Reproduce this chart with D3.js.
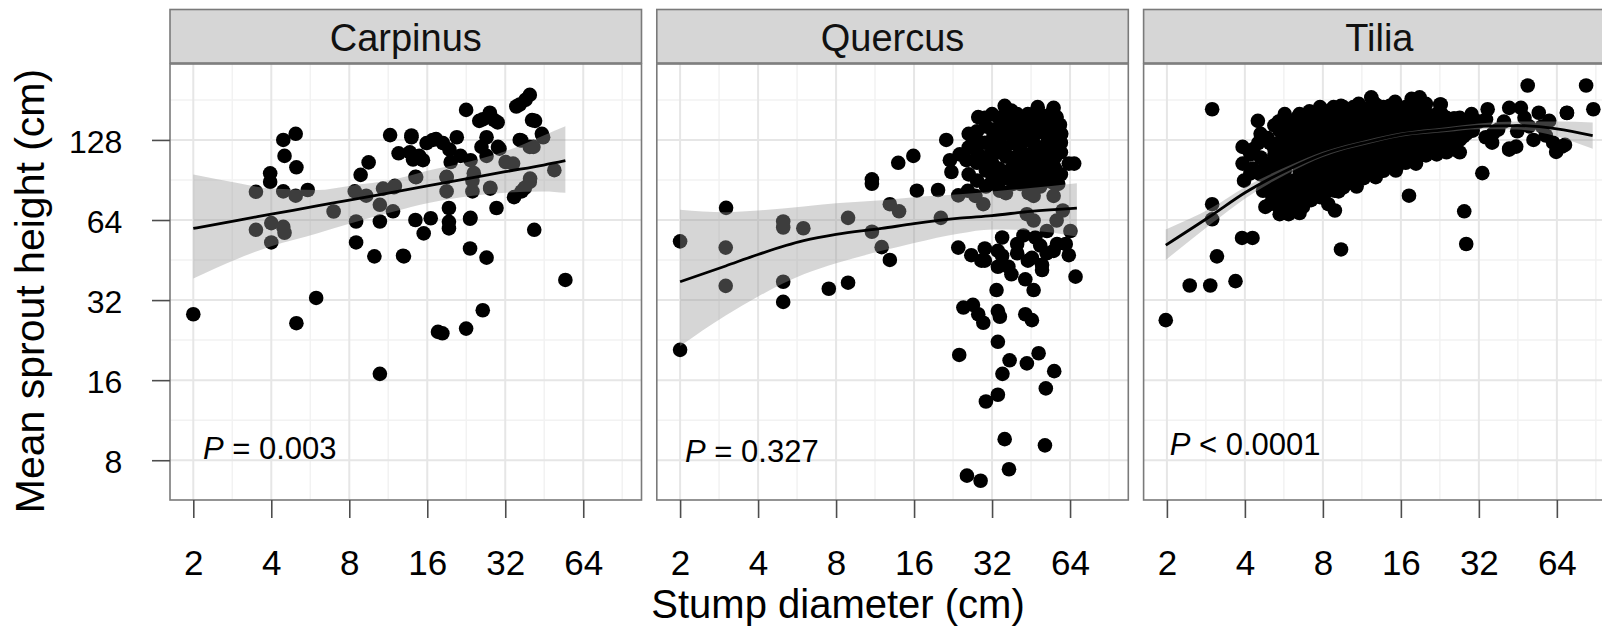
<!DOCTYPE html>
<html>
<head>
<meta charset="utf-8">
<script src="https://cdn.jsdelivr.net/npm/d3@7"></script>
<style>
  body { margin: 0; background: #fff; }
  svg { display: block; font-family: "Liberation Sans", Arial, sans-serif; }
</style>
</head>
<body>
<svg id="chart"></svg>
<script>
// ---- data ----
const species = ["Carpinus", "Quercus", "Tilia"];
const pLabels = [["P", " = 0.003"], ["P", " = 0.327"], ["P", " < 0.0001"]];
const xTicks = [2, 4, 8, 16, 32, 64];
const yTicks = [8, 16, 32, 64, 128];

// stump diameter (cm), mean sprout height (cm)
const carpinusPts = [
  [2.0, 28.3], [3.49, 81.7], [3.49, 58.8], [3.96, 95.9], [3.96, 89], [4.0, 62.3], [4.0, 52.7],
  [4.45, 128], [4.5, 111.5], [4.97, 135], [5.0, 101], [4.45, 82], [4.97, 79], [5.53, 83],
  [4.45, 60.3], [4.5, 57.3], [5.96, 32.6], [5.0, 26.2], [6.96, 68.9], [8.4, 82], [8.5, 63.2],
  [8.5, 52.7], [8.85, 94.6], [9.5, 105.4], [9.3, 79], [10.0, 46.7], [10.5, 63.2], [10.5, 16.9],
  [10.8, 84], [10.5, 73], [11.5, 133.5], [11.8, 69], [11.9, 85], [13.0, 46.7], [13.9, 131],
  [12.4, 114], [14.4, 93], [14.4, 64], [14.9, 111.5], [15.5, 57], [16.5, 65], [16.8, 128],
  [18.4, 124.5], [19.0, 93], [19.0, 82], [19.4, 71], [19.4, 63], [19.4, 59.5], [19.7, 105.7],
  [20.8, 131], [21.5, 111.5], [22.6, 166], [23.4, 64.7], [23.4, 50], [23.9, 82], [24.2, 96],
  [26.2, 153], [27.1, 131], [27.1, 111.5], [27.1, 46.2], [26.2, 29.3], [28, 84], [29, 152],
  [29.6, 71], [30, 120.5], [32.1, 105.7], [34.6, 78], [35.3, 171], [36.4, 128], [37, 82],
  [38.3, 181], [39.8, 189], [39.8, 120.5], [39.8, 89], [40.6, 152], [41.4, 58.8], [44.8, 131],
  [49.5, 98.5], [54.6, 38.1], [17.6, 24.3], [18.3, 24.0], [22.6, 25.0], [13.9, 133], [14.1, 108],
  [15.4, 107.4], [15.9, 124.6], [17.3, 129], [19.5, 117.7], [23.5, 107.4], [25.4, 151], [27.9, 162],
  [29.9, 149], [30.4, 118.7], [36.9, 127.4], [41.1, 120.5], [34.3, 104.3], [39.9, 91.6], [38.1, 84.6],
  [12, 86], [14.5, 92.8], [19, 92.8], [23.9, 90], [23.5, 65.2], [28, 84.6], [12.9, 47], [25.9, 120.5],
  [13.7, 115], [36.4, 174], [41.7, 151], [44.3, 135]
];

const quercusPts = [
  [2.0, 53.2], [3.01, 71.1], [3.0, 50.4], [3.0, 36.2], [5.0, 63.2], [5.0, 60], [5.0, 37.5], [5.0, 31.5],
  [5.98, 59.6], [7.5, 35.3], [8.9, 37.2], [8.9, 65.2], [11.0, 91], [11.0, 87.6], [11.0, 57.8], [12.0, 50.6],
  [12.9, 73.4], [14.0, 69], [12.9, 45.3], [13.9, 105], [15.9, 111.5], [16.4, 82.5], [19.8, 83], [20.3, 65.2],
  [21.3, 128], [2.0, 20.8],
  [22.0, 107.4], [22.3, 97], [23.7, 79.2], [24.0, 113], [23.7, 50.4], [25.5, 107.4], [25.8, 82.4], [26.6, 47.2],
  [27.0, 125.9], [28.3, 156], [29.1, 45.0], [29.6, 73.4], [30.3, 143.8], [30.3, 98.2], [31.5, 87.5], [33.3, 120.5],
  [33.7, 42.7], [33.7, 49.0], [34.3, 90], [35.8, 172], [36.2, 135], [36.2, 110.9], [36.2, 80.8], [37.0, 42.7],
  [37.4, 95.8], [38.6, 124.6], [40.4, 143.8], [40, 104.3], [41.1, 87.5], [41.7, 113], [42.3, 56], [43.0, 38.3],
  [43.6, 127.4], [44.3, 80.8], [45.6, 46.1], [45.6, 95.8], [46.3, 34.9], [46.3, 63.7], [47.7, 120.5], [48.4, 149],
  [49.1, 51.3], [49.9, 43.4], [50.6, 90], [51.4, 135], [52.1, 107.4], [52.1, 58.2], [53.8, 160], [54.5, 88.8],
  [55.3, 49], [56.1, 120.5], [56.8, 156], [56.8, 63.7], [57.6, 87.5], [58.5, 146], [59.2, 135], [60, 69.5],
  [61.6, 52], [63.3, 104.3], [63.3, 47.2], [64.2, 58.2], [66.4, 104.3], [67.2, 39.2], [33.3, 34.9], [49.9, 41.5],
  [28.7, 124.6], [31.5, 113], [32.3, 131], [34.3, 143.8], [38.6, 151], [41.1, 117.7], [43.6, 104.3], [47, 104.3],
  [49.1, 85.5], [34.3, 82.4], [38.6, 87.5], [45, 131], [52.1, 124.6], [49.1, 160], [55.3, 169], [46.3, 78.9],
  [55.3, 78.9], [43.6, 67.3], [30.3, 85.5], [27.6, 78.9],
  [26, 95], [26, 120], [26, 135], [28, 90], [28, 105], [28, 115], [28, 138], [30, 110], [30, 125], [30, 155],
  [32, 95], [32, 105], [32, 140], [32, 160], [34, 100], [34, 115], [34, 130], [34, 155],
  [36, 92], [36, 120], [36, 145], [36, 160], [38, 100], [38, 110], [38, 135], [38, 165],
  [40, 95], [40, 125], [40, 135], [40, 160], [42, 95], [42, 105], [42, 140], [42, 150],
  [44, 90], [44, 112], [44, 140], [44, 160], [46, 88], [46, 115], [46, 130], [46, 150],
  [48, 95], [48, 110], [48, 138], [48, 170], [50, 100], [50, 118], [50, 145],
  [53, 95], [53, 115], [53, 140], [53, 150], [56, 100], [56, 110], [56, 130], [56, 140],
  [59, 95], [59, 115], [59, 125],
  [30, 50], [30, 45], [35, 47], [35, 55], [40, 48], [40, 52], [47, 55], [52, 48], [57, 52], [44, 45], [38, 40],
  [24.8, 30], [27, 30.7], [28.3, 28.3], [29.6, 26.3], [33.7, 29.1], [34.3, 27.7], [43, 28.3], [45.6, 26.9],
  [33.7, 22.3], [23.9, 19.9], [37.4, 19], [43.6, 18.5], [48.4, 20.2], [55.6, 17.3], [35.1, 16.9], [51.6, 14.9],
  [33.7, 14.1], [30.3, 13.3], [35.8, 9.6], [51.2, 9.1], [37.2, 7.4], [25.6, 7.0], [28.9, 6.7]
];

const tiliaPts = [
  [1.98, 26.9], [2.45, 36.3], [2.94, 36.3], [3.68, 37.7], [3.12, 46.7], [3.9, 54.8], [4.28, 54.8], [2.99, 167],
  [4.49, 151], [2.99, 73.4], [2.99, 64.4], [9.4, 49.6], [17.2, 79], [28.1, 69], [28.6, 52], [33, 96],
  [49.4, 205], [83, 205], [88.5, 167], [70, 161.6], [63.6, 115.4], [67, 120.9], [61.9, 125], [41.9, 118.8],
  [44.6, 120.8], [34, 131],
  [3.92, 120.5], [3.92, 104.3], [3.97, 90], [5.0, 124.6], [5.92, 151], [6.4, 156], [7.1, 164], [9.4, 172],
  [12.3, 185], [17.6, 182.6], [18.9, 185], [22.7, 174], [25.8, 154], [28.6, 146], [8.4, 73.4], [8.9, 69.5],
  [5.45, 67.3], [5.0, 73.4], [4.7, 82.4], [23.9, 117.7], [15.3, 98.2], [12.8, 92.8], [10.8, 85.5], [7.3, 78.9],
  [6.3, 73.4], [5.6, 104.3], [6.3, 120.5], [8.0, 138.7], [10.2, 146], [13.9, 154], [19.4, 154], [20.4, 127.4],
  [16.8, 120.5], [11.4, 117.7], [8.4, 104.3], [6.9, 95.8], [9.8, 95.8], [12.1, 104.3], [14.4, 110.9], [18.3, 104.3],
  [22, 113], [7.6, 120.5], [8.9, 127.4], [5.45, 90], [4.8, 104.3], [5.9, 127.4], [6.7, 82.4], [7.7, 87.5],
  [10.8, 127.4], [13.6, 130.8], [17.2, 138.7], [12.8, 174], [11.0, 156], [8.4, 156], [7.1, 146], [5.45, 138.7],
  [13.9, 143.8], [24.6, 131], [27.9, 132], [30.3, 138.7], [4.8, 71.7], [5.9, 67.3], [6.7, 71.7], [5.1, 78.9],
  [7.3, 85.5], [8.9, 82.4], [11.4, 92.8], [4.2, 95.8], [4.2, 113], [4.5, 124.6],
  [22.8, 174], [25.6, 154], [28.6, 135], [34.6, 167], [34.1, 153], [36.2, 135], [41.9, 169], [41.9, 117.7],
  [46.5, 169], [50, 144], [54.5, 162], [56.1, 143.8], [59.8, 151], [68.8, 122.6], [70, 162],
  [38, 140], [40, 150], [45, 138], [52, 128], [48, 155], [58, 133], [36, 125], [32, 150], [30, 160],
  [4.6, 95], [4.6, 110], [4.6, 135], [5.2, 85], [5.2, 95], [5.2, 112], [5.2, 118], [5.2, 145],
  [5.7, 76], [5.7, 82], [5.7, 98], [5.7, 115], [5.7, 132], [5.7, 160],
  [6.2, 70], [6.2, 80], [6.2, 90], [6.2, 108], [6.2, 128], [6.2, 140],
  [6.7, 76], [6.7, 92], [6.7, 102], [6.7, 115], [6.7, 135], [6.7, 150],
  [7.2, 76], [7.2, 96], [7.2, 108], [7.2, 125], [7.2, 138], [7.2, 158],
  [7.8, 78], [7.8, 92], [7.8, 100], [7.8, 112], [7.8, 130], [7.8, 150], [7.8, 170],
  [8.5, 88], [8.5, 96], [8.5, 115], [8.5, 122], [8.5, 135], [8.5, 145], [8.5, 165],
  [9.2, 82], [9.2, 90], [9.2, 105], [9.2, 112], [9.2, 125], [9.2, 140], [9.2, 160],
  [10, 90], [10, 100], [10, 108], [10, 118], [10, 135], [10, 150], [10, 165],
  [11, 96], [11, 105], [11, 112], [11, 122], [11, 140], [11, 160], [11, 175],
  [12, 98], [12, 112], [12, 118], [12, 130], [12, 140], [12, 150], [12, 165],
  [13, 100], [13, 115], [13, 122], [13, 138], [13, 148], [13, 165],
  [14.5, 102], [14.5, 118], [14.5, 125], [14.5, 135], [14.5, 145], [14.5, 160], [14.5, 172],
  [16, 105], [16, 112], [16, 125], [16, 130], [16, 140], [16, 150], [16, 165],
  [17.5, 110], [17.5, 118], [17.5, 128], [17.5, 145], [17.5, 160], [17.5, 175],
  [19, 112], [19, 120], [19, 132], [19, 140], [19, 148], [19, 165],
  [21, 118], [21, 125], [21, 135], [21, 145], [21, 155],
  [23, 120], [23, 128], [23, 140], [23, 150], [23, 160],
  [25.5, 118], [25.5, 125], [25.5, 138], [25.5, 145], [27, 115], [27, 128], [27, 140], [27, 155],
  [4.3, 100], [4.3, 118], [4.9, 90], [4.9, 102], [4.9, 130],
  [5.4, 72], [5.4, 80], [5.4, 100], [5.4, 108], [5.4, 125], [5.4, 150],
  [5.9, 72], [5.9, 88], [5.9, 105], [5.9, 120], [5.9, 145],
  [6.5, 68], [6.5, 86], [6.5, 98], [6.5, 110], [6.5, 122], [6.5, 130], [6.5, 145], [6.5, 160],
  [7.0, 82], [7.0, 90], [7.0, 102], [7.0, 115], [7.0, 132], [7.0, 152],
  [7.5, 80], [7.5, 95], [7.5, 106], [7.5, 118], [7.5, 128], [7.5, 140], [7.5, 160],
  [8.1, 80], [8.1, 85], [8.1, 98], [8.1, 108], [8.1, 118], [8.1, 128], [8.1, 142], [8.1, 160],
  [8.8, 84], [8.8, 92], [8.8, 100], [8.8, 110], [8.8, 128], [8.8, 150], [8.8, 170],
  [9.6, 85], [9.6, 95], [9.6, 102], [9.6, 115], [9.6, 122], [9.6, 132], [9.6, 155], [9.6, 170],
  [10.5, 88], [10.5, 95], [10.5, 105], [10.5, 115], [10.5, 125], [10.5, 140], [10.5, 155], [10.5, 170],
  [11.5, 92], [11.5, 100], [11.5, 110], [11.5, 118], [11.5, 132], [11.5, 148], [11.5, 168],
  [12.5, 96], [12.5, 105], [12.5, 112], [12.5, 125], [12.5, 135], [12.5, 145], [12.5, 158], [12.5, 178],
  [13.7, 98], [13.7, 108], [13.7, 118], [13.7, 128], [13.7, 140], [13.7, 160], [13.7, 170],
  [15.2, 100], [15.2, 110], [15.2, 120], [15.2, 130], [15.2, 145], [15.2, 155], [15.2, 168], [15.2, 178],
  [16.7, 105], [16.7, 115], [16.7, 125], [16.7, 135], [16.7, 145], [16.7, 155], [16.7, 170],
  [18.2, 108], [18.2, 115], [18.2, 125], [18.2, 135], [18.2, 150], [18.2, 160], [18.2, 172],
  [20, 112], [20, 120], [20, 130], [20, 140], [20, 150], [20, 162], [20, 175],
  [22, 115], [22, 125], [22, 135], [22, 150], [22, 160],
  [24, 115], [24, 125], [24, 135], [24, 145], [24, 155], [26, 118], [26, 130], [26, 140], [26, 148]
];

// fitted curves with confidence band (x, fit, lower, upper)
const carpinusFitX  = [2, 3, 4, 6, 8, 12, 16, 24, 32, 45, 54.6];
const carpinusFit   = [59.5, 64, 67.3, 72.3, 76, 81.7, 86, 92.4, 97.2, 103, 107];
const carpinusLower = [38.6, 46, 51, 57, 62, 69, 74, 79, 81, 82, 81];
const carpinusUpper = [95, 88, 84, 83, 86, 91, 98, 107, 116, 133, 144];

const quercusFitX  = [2, 3, 4, 6, 8, 12, 16, 24, 32, 45, 68];
const quercusFit   = [37.5, 43, 47.5, 53.5, 56.5, 59.5, 62, 65, 66.5, 69, 71];
const quercusLower = [21.5, 28, 33, 40, 44, 49, 52.5, 57, 59, 58.5, 55.5];
const quercusUpper = [70, 68.5, 69.5, 72, 74, 76, 78, 80, 82, 84.5, 88];

const tiliaFitX  = [1.98, 3, 4, 6, 8, 12, 16, 24, 32, 45, 64, 88];
const tiliaFit   = [51.5, 67, 81, 100, 113, 126, 134, 140, 144, 145, 141, 133];
const tiliaLower = [45.3, 62.5, 77, 97, 110.5, 123.5, 131.5, 137, 140.5, 140, 132, 118.5];
const tiliaUpper = [59, 71.5, 85, 103, 115.5, 128.5, 136.5, 143, 147.5, 150, 150, 149];

// ---- layout ----
const width = 1602, height = 628;
const panelW = 471.5, panelGap = 15.3, left0 = 170;
const stripTop = 9.5, panelTop = 64, panelBottom = 500;
const font = '"Liberation Sans", Arial, sans-serif';

const svg = d3.select("#chart").attr("width", width).attr("height", height)
  .attr("viewBox", [0, 0, width, height]);

const x_scale = d3.scaleLog().base(2).domain([1.626, 107.4]).range([0, panelW]);
const y_scale = d3.scaleLog().base(2).domain([5.67, 247]).range([panelBottom - panelTop, 0]);

const minorX = [1.414, 2.828, 5.657, 11.31, 22.63, 45.25, 90.51];
const minorY = [5.657, 11.31, 22.63, 45.25, 90.51, 181.0];

const panels = [
  { pts: carpinusPts, fx: carpinusFitX, fy: carpinusFit, lo: carpinusLower, hi: carpinusUpper, lab: [2.18, 8.12] },
  { pts: quercusPts, fx: quercusFitX, fy: quercusFit, lo: quercusLower, hi: quercusUpper, lab: [2.09, 7.91] },
  { pts: tiliaPts, fx: tiliaFitX, fy: tiliaFit, lo: tiliaLower, hi: tiliaUpper, lab: [2.05, 8.37] }
];

const pH = panelBottom - panelTop;

panels.forEach((p, i) => {
  const left = left0 + i * (panelW + panelGap);
  const g = svg.append("g").attr("transform", `translate(${left},${panelTop})`);

  svg.append("clipPath").attr("id", "clip" + i)
    .append("rect").attr("width", panelW).attr("height", pH);

  g.append("rect").attr("width", panelW).attr("height", pH).attr("fill", "#fff");

  const grid = g.append("g").attr("clip-path", `url(#clip${i})`);
  grid.selectAll(".mx").data(minorX).join("line")
    .attr("x1", d => x_scale(d)).attr("x2", d => x_scale(d))
    .attr("y1", 0).attr("y2", pH).attr("stroke", "#f2f2f2").attr("stroke-width", 1.5);
  grid.selectAll(".my").data(minorY).join("line")
    .attr("y1", d => y_scale(d)).attr("y2", d => y_scale(d))
    .attr("x1", 0).attr("x2", panelW).attr("stroke", "#f2f2f2").attr("stroke-width", 1.5);
  grid.selectAll(".Mx").data(xTicks).join("line")
    .attr("x1", d => x_scale(d)).attr("x2", d => x_scale(d))
    .attr("y1", 0).attr("y2", pH).attr("stroke", "#e6e6e6").attr("stroke-width", 2);
  grid.selectAll(".My").data(yTicks).join("line")
    .attr("y1", d => y_scale(d)).attr("y2", d => y_scale(d))
    .attr("x1", 0).attr("x2", panelW).attr("stroke", "#e6e6e6").attr("stroke-width", 2);

  const marks = g.append("g").attr("clip-path", `url(#clip${i})`);

  // points
  marks.selectAll("circle").data(p.pts).join("circle")
    .attr("cx", d => x_scale(d[0]))
    .attr("cy", d => y_scale(d[1]))
    .attr("r", 7.3)
    .attr("fill", "#000");

  // confidence band, then fitted line
  const band = p.fx.map((x, k) => ({ x, fit: p.fy[k], lo: p.lo[k], hi: p.hi[k] }));
  const area = d3.area().curve(d3.curveMonotoneX)
    .x(d => x_scale(d.x)).y0(d => y_scale(d.lo)).y1(d => y_scale(d.hi));
  const line = d3.line().curve(d3.curveMonotoneX)
    .x(d => x_scale(d.x)).y(d => y_scale(d.fit));
  marks.append("path").datum(band).attr("d", area)
    .attr("fill", "#999999").attr("fill-opacity", 0.4);
  marks.append("path").datum(band).attr("d", line)
    .attr("fill", "none").attr("stroke", "#000").attr("stroke-width", 2.8);

  // P value label
  const t = g.append("text")
    .attr("x", x_scale(p.lab[0])).attr("y", y_scale(p.lab[1]))
    .attr("font-size", 31).attr("fill", "#000");
  t.append("tspan").attr("font-style", "italic").text(pLabels[i][0]);
  t.append("tspan").text(pLabels[i][1]);

  // panel border
  g.append("rect").attr("width", panelW).attr("height", pH)
    .attr("fill", "none").attr("stroke", "#7a7a7a").attr("stroke-width", 1.6);

  // strip
  const s = svg.append("g").attr("transform", `translate(${left},${stripTop})`);
  s.append("rect").attr("width", panelW).attr("height", panelTop - stripTop - 1)
    .attr("fill", "#d6d6d6").attr("stroke", "#7a7a7a").attr("stroke-width", 1.6);
  s.append("text").attr("x", panelW / 2).attr("y", 41)
    .attr("text-anchor", "middle").attr("font-size", 38).attr("fill", "#111")
    .text(species[i]);

  // x axis
  const xAxis = d3.axisBottom(x_scale).tickValues(xTicks).tickSize(18).tickPadding(32)
    .tickFormat(d3.format("d"));
  const xa = svg.append("g").attr("transform", `translate(${left},${panelBottom})`).call(xAxis);
  xa.select(".domain").remove();
  xa.selectAll("line").attr("stroke", "#4d4d4d").attr("stroke-width", 1.6);
  xa.selectAll("text").attr("font-size", 35).attr("font-family", font).attr("fill", "#000");

  if (i === 0) {
    const yAxis = d3.axisLeft(y_scale).tickValues(yTicks).tickSize(18).tickPadding(29.6)
      .tickFormat(d3.format("d"));
    const ya = svg.append("g").attr("transform", `translate(${left},${panelTop})`).call(yAxis);
    ya.select(".domain").remove();
    ya.selectAll("line").attr("stroke", "#4d4d4d").attr("stroke-width", 1.6);
    ya.selectAll("text").attr("font-size", 32).attr("font-family", font).attr("fill", "#000")
      .attr("dy", "0.38em");
  }
});

// axis titles
svg.append("text").attr("x", 838).attr("y", 618).attr("text-anchor", "middle")
  .attr("font-size", 40).attr("fill", "#000").text("Stump diameter (cm)");
svg.append("text").attr("transform", "translate(44,291) rotate(-90)").attr("text-anchor", "middle")
  .attr("font-size", 41).attr("fill", "#000").text("Mean sprout height (cm)");
</script>
</body>
</html>
